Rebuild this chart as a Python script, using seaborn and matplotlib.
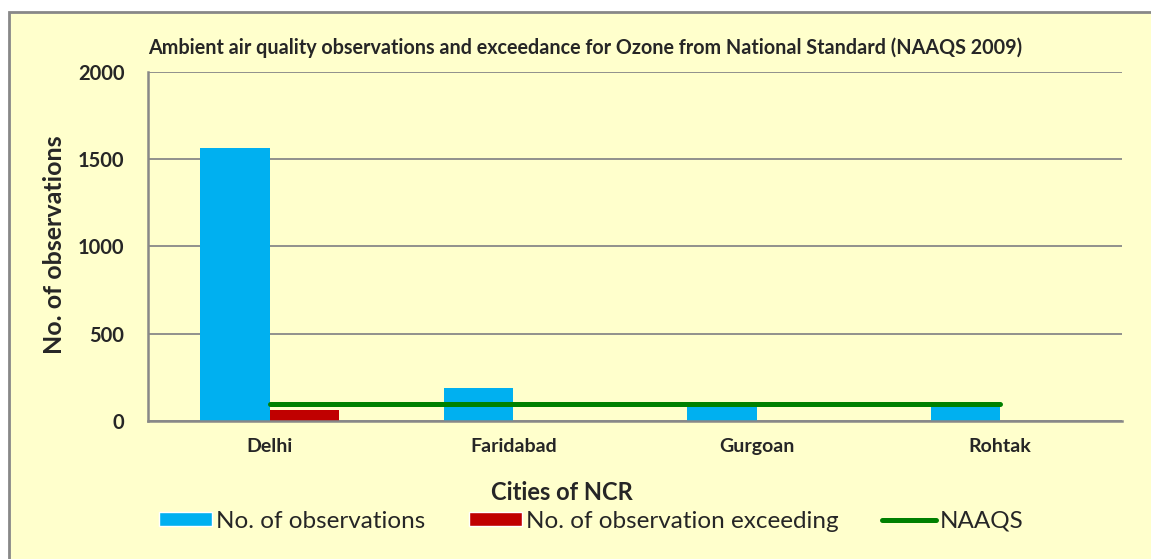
import seaborn as sns
import pandas as pd
import numpy as np
import matplotlib
matplotlib.use("Agg")
import matplotlib.pyplot as plt
from matplotlib.patches import Rectangle, Patch
from matplotlib.lines import Line2D

#####                         data                         #####
cities = ["Delhi", "Faridabad", "Gurgoan", "Rohtak"]
n_observations = [1564, 188, 82, 82]
n_exceeding = [63, 0, 0, 0]
naaqs = [100, 100, 100, 100]

series_names = ["No. of observations", "No. of observation exceeding"]
colors = {"No. of observations": "#00B0F0", "No. of observation exceeding": "#C00000"}

df = pd.DataFrame({
    "city": cities * 2,
    "series": [series_names[0]] * 4 + [series_names[1]] * 4,
    "value": n_observations + n_exceeding,
})

sns.set_style("white")
plt.rcParams["font.family"] = ["Lato", "DejaVu Sans"]

bg = "#FFFFCC"
grey = "#888888"

fig = plt.figure(figsize=(11.51, 5.59), dpi=100, facecolor="white")
# outer chart frame
fig.patches.append(Rectangle((9 / 1151, -0.02), 1.05, 1 - 12 / 559 + 0.02,
                             transform=fig.transFigure, facecolor=bg,
                             edgecolor=grey, linewidth=2, zorder=-5))

ax = fig.add_axes([148 / 1151, 1 - 421 / 559, (1122 - 148) / 1151, (421 - 72) / 559])
ax.set_facecolor("none")

sns.barplot(data=df, x="city", y="value", hue="series", palette=colors,
            width=0.57, saturation=1, ax=ax, legend=False, zorder=3,
            linewidth=0, edgecolor="none")
sns.lineplot(x=cities, y=naaqs, color="#008000", linewidth=3.6, ax=ax,
             solid_capstyle="round", zorder=4)

ax.set_xlim(-0.5, 3.5)
ax.set_ylim(0, 2000)
ax.set_yticks([0, 500, 1000, 1500, 2000])
ax.grid(axis="y", color=grey, linewidth=1.3, zorder=0)
ax.set_axisbelow(True)

for s in ["top", "right"]:
    ax.spines[s].set_visible(False)
for s in ["left", "bottom"]:
    ax.spines[s].set_color(grey)
    ax.spines[s].set_linewidth(1.8)
    ax.spines[s].set_zorder(5)

ax.set_xticks(np.arange(-0.5, 4.0, 1.0), minor=True)
ax.tick_params(axis="x", which="major", length=0, pad=12)
ax.tick_params(axis="x", which="minor", length=6, width=1.5, color=grey, direction="out")
ax.tick_params(axis="y", length=6, width=1.5, color=grey, direction="out", pad=11)
for lbl in ax.get_xticklabels():
    lbl.set_fontweight("bold")
    lbl.set_fontsize(14)
for lbl in ax.get_yticklabels():
    lbl.set_fontweight("bold")
    lbl.set_fontsize(14.5)
ax.set_xlabel("")
ax.set_ylabel("")

fig.text(585 / 1151, 1 - 48 / 559,
         "Ambient air quality observations and exceedance for Ozone from National Standard (NAAQS 2009)",
         ha="center", va="center", fontsize=14.2, fontweight="bold")
fig.text(55 / 1151, 1 - 245 / 559, "No. of observations", rotation=90,
         ha="center", va="center", fontsize=18, fontweight="bold")
fig.text(562 / 1151, 1 - 492 / 559, "Cities of NCR",
         ha="center", va="center", fontsize=17, fontweight="bold")

handles = [Patch(facecolor=colors[series_names[0]]),
           Patch(facecolor=colors[series_names[1]]),
           Line2D([], [], color="#008000", linewidth=3.6, solid_capstyle="round")]
fig.legend(handles, series_names + ["NAAQS"], loc="center",
           bbox_to_anchor=(591 / 1151, 1 - 521 / 559), ncol=3, frameon=False,
           fontsize=17.5, handlelength=2.2, handleheight=0.55, handletextpad=0.15,
           columnspacing=1.8)

fig.savefig("out.png", dpi=100, facecolor=fig.get_facecolor())
